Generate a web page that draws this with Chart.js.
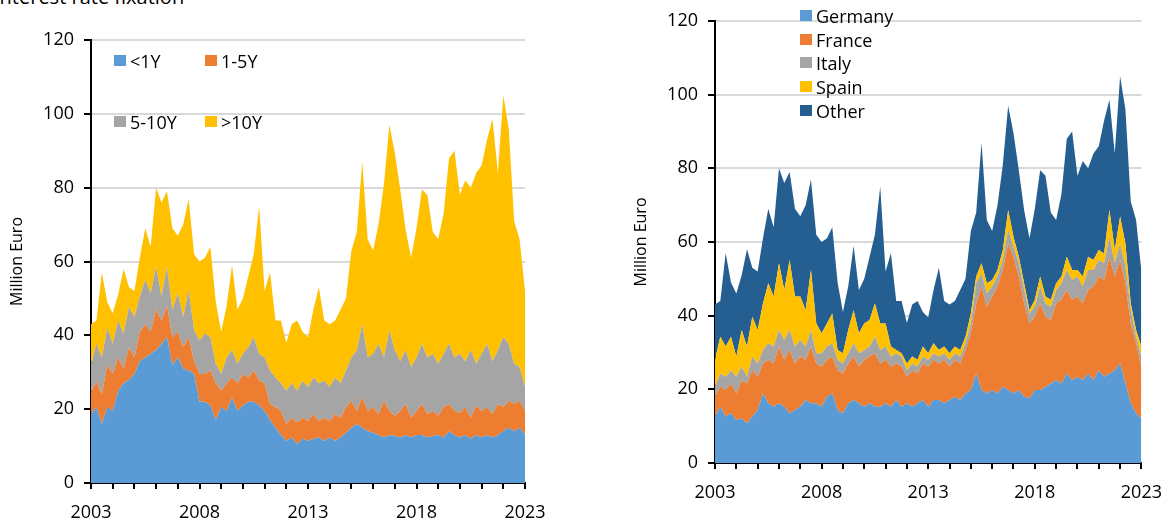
<!DOCTYPE html>
<html>
<head>
<meta charset="utf-8">
<script src="https://cdn.jsdelivr.net/npm/chart.js@4"></script>
<style>
  body { margin: 0; width: 1175px; height: 522px; overflow: hidden; background: #fff; position: relative; font-family: "Open Sans", sans-serif; }
  .box { position: absolute; top: 0; }
  .title { position: absolute; left: -6px; top: -17px; font-size: 20px; line-height: 27px; color: #000; white-space: nowrap; }
  .leg { position: absolute; font-size: 18px; color: #000; line-height: 22px; white-space: nowrap; }
  .leg i { position: absolute; width: 12px; height: 11px; }
</style>
</head>
<body>
<div class="title">Interest rate fixation</div>
<div class="box" style="left:0;width:560px;height:522px"><canvas id="left" width="560" height="522"></canvas></div>
<div class="box" style="left:624px;width:551px;height:522px"><canvas id="right" width="551" height="522"></canvas></div>
<script>
// quarterly points, 2003Q1 .. 2023Q1
var dates = [];
for (var y = 2003; y <= 2023; y++) {
    for (var q = 0; q < 4; q++) {
        if (y < 2023 || q == 0) dates.push(y + q / 4);
    }
}

// left panel: by interest rate fixation (million euro)
var fixNames = ['<1Y', '1-5Y', '5-10Y', '>10Y'];
var lt1y = [18.6,20.5,16,20.5, 19.5,25,27,28, 29.5,33,34,35, 36,37.7,39.5,32, 34,31,30.5,29.5,
    22,22,21,17, 20.5,19.5,23,19.5, 21,22,22,21, 19.5,17,15,13, 11.4,12.3,10.5,12,
    11.4,12,12.3,11.4, 12.3,11.4,12.3,13.6, 15,16,15,14, 13.6,13,12.3,13, 12.7,12.3,13,12.3,
    13,13,12.3,12.7, 13,12.3,14,13, 12.3,13,12,13, 12.3,13,12.3,13, 14,15,14,15, 13];
var y1to5 = [5.9,7.2,8,11.5, 10,9,4,8.8, 4.5,8,9,6, 11,6.3,8.5,7.5, 7,5.8,9,3.5,
    7.5,7.5,9.5,10, 4.5,7.5,5.6,7.5, 8.5,6.6,8.5,6.7, 7.5,4.4,5.5,6.5, 4.6,5.4,5.9,5.7,
    5.4,6.6,4.5,6.3, 4.5,7.2,5.4,6.9, 7.3,3.5,8.2,5.5, 6.9,5.6,10,6.5, 5.5,7.2,8.4,5.4,
    6.5,8.4,6.3,6.8, 5.2,8.2,7.4,6.5, 6.7,7.5,5.7,8, 7.2,7.5,6.3,8.4, 6.5,7.3,7.4,7.3, 6.5];
var y5to10 = [7.5,10,10,10, 8.2,10,9.5,10.9, 11,9.5,12,10.4, 11.6,6.5,10.6,7.3, 10.4,8.2,12.8,8.4,
    9.1,11,9,5.3, 4.5,7,7.4,5.3, 5.5,8.2,9,7.3, 7,9.1,8.1,7.5, 9,9.3,8.6,10,
    9.2,10,10.2,10, 9.2,10,9.3,10, 11.7,16.5,19.8,14.5, 14.5,19.1,11.7,21.9, 17.8,13.5,14.6,13.7,
    14.5,16.3,15.4,15.5, 14.1,14.5,16.3,14.5, 16,12.5,18.3,11.3, 15.5,17.2,14.4,14.6, 19,15.4,10.9,9.1, 6.5];
var gt10y = [11,6.3,23,7, 8.3,7,17.5,5.3, 7,10.5,14,12.6, 21.4,25.5,20.4,22.2, 15.6,25,24.7,20.6,
    21.4,20.5,24.5,16.7, 11.5,14,23,14.7, 15,19.2,22.5,40, 18,26.5,15.4,17, 13,16,19,13.3,
    13.5,18.4,26,16.3, 17,15.4,20,19.5, 29,32,44,32, 28,32.3,47,55.6, 53.5,46.5,32.6,29.6,
    35,41.8,44,33, 33.7,38,50.3,56, 43,49,44,51.7, 51,55.3,65.6,48, 65.5,58.3,38.7,34.6, 26];

// right panel: by country (million euro)
var countryNames = ['Germany', 'France', 'Italy', 'Spain', 'Other'];
var germany = [12.6,15.3,12.6,13.5, 11.7,12.1,10.8,12.6, 14.4,18.9,16.2,15.3, 16.2,15.3,13.5,14.4, 15.3,17.1,16.2,16.2,
    15.3,18,18.9,14.4, 13.5,16.2,17.1,16.2, 15.3,16.2,15.3,15.3, 16.2,15.3,17.1,15.3, 16.2,15.3,16.2,17.1,
    15.3,17.1,17.1,16.2, 17.1,18,17.1,18.9, 19.8,24.3,19.8,18.9, 19.8,18.9,20.7,19.8, 18.9,19.8,18,17.6,
    19.8,19.8,20.7,21.6, 22.5,21.6,24.3,22.5, 23.4,22.5,24.3,22.5, 25.2,23.4,24.3,25.2, 27,21.6,16.2,13.5, 12.1];
var france = [5.4,5.4,7.2,8.1, 7.2,10.4,10.8,12.6, 9,8.1,11.8,11.7, 15.4,12.7,17.2,12.6, 13.6,10.9,15.4,10.8,
    10.9,10,10,10.8, 10.8,10.8,11.8,10, 12.7,12.7,14.5,11.7, 11.8,10.9,9.9,10.9, 7.2,9.9,8.1,9.9,
    10.9,10.9,9.9,11.8, 9.1,10,9.9,11.8, 15.4,19,28.1,23.5, 25.4,29,31.7,39.8, 37.1,30.8,25.3,20.3,
    19.9,23.5,19,17.2, 20.8,22.7,22.7,21.8, 21.8,20.8,22.7,25.4, 25.4,26.3,31.7,25.4, 28.1,27.2,21.7,19, 14.1];
var italy = [2.7,3.6,3.6,3.6, 4.5,3.7,1.8,3.7, 3.6,3.7,4.5,4.6, 4.5,5.4,5.4,4.6, 4.5,3.6,4.5,2.8,
    3.6,3.6,3.6,2.8, 2.7,2.8,3.6,3.6, 2.7,2.7,4.5,3.7, 3.6,2.7,2.8,2.7, 1.8,1.8,1.9,1.9,
    1.8,1.8,1.9,1.8, 1.8,1.8,1.9,1.8, 2.7,5.5,3.6,3.7, 2.7,2.7,2.7,3.7, 2.7,3.7,3.7,2.7,
    2.7,4.6,3.6,3.6, 3.7,4.5,5.4,5.4, 5.4,4.6,5.4,4.5, 4.5,4.6,5.4,3.7, 4.5,4.6,3.7,1.8, 2.7];
var spain = [7.3,10,8.2,9.1, 5.5,9.9,8.2,10.8, 9.1,12.6,16.3,13.6, 18.1,13.6,19,13.6, 11.8,9.9,16.3,8.1,
    5.4,6.3,8.1,2.7, 2.8,6.3,9,5.4, 7.2,7.2,9,7.2, 6.3,2.7,0.9,0.9, 1.8,1.9,1.8,2.7,
    1.8,2.7,1.8,1.8, 1.8,1.8,1.8,1.8, 2.7,1.8,2.7,2.7, 1.8,1.8,2.7,5.4, 2.7,1.7,1.8,0.9,
    1.9,2.7,1.9,1.9, 1.8,1.8,3.6,2.7, 1.8,2.7,3.6,2.7, 2.7,2.6,7.3,3.5, 7.3,6.2,1.7,1.8, 2.7];
var other = [15,9.7,25.4,14.7, 17.1,14.9,26.4,13.3, 15.9,17.7,20.2,18.8, 25.8,29,23.9,23.8, 21.8,28.5,24.6,24.1,
    24.8,23.1,23.4,18.3, 11.2,11.9,17.5,11.8, 12.1,17.2,18.7,37.1, 14.1,25.4,13.3,14.2, 11,14.1,16,9.4,
    9.7,14.5,22.3,12.4, 13.2,12.4,16.3,15.7, 22.4,17.4,32.8,17.2, 13.3,17.6,23.2,28.3, 28.1,23.5,19.8,19.5,
    24.7,28.9,32.8,23.7, 17.2,22.4,32,37.6, 25.6,31.4,24,28.9, 28.2,36.1,29.9,26.2, 38.1,36.4,27.7,29.9, 20.4];

var yTicks = [0, 20, 40, 60, 80, 100, 120];
var xLabelYears = [2003, 2008, 2013, 2018, 2023];

var colors = ['#5B9BD5', '#ED7D31', '#A5A5A5', '#FFC000', '#255E91'];

function make_sets(names, series) {
    var sets = [];
    for (var i = 0; i < series.length; i++) {
        sets.push({
            label: names[i],
            data: series[i].map(function (v, j) { return { x: dates[j], y: v }; }),
            backgroundColor: colors[i],
            borderColor: colors[i],
            borderWidth: 0,
            pointRadius: 0,
            tension: 0,
            fill: i == 0 ? 'origin' : '-1'
        });
    }
    return sets;
}

function make_chart(id, names, series, pad) {
    var font = { family: 'Open Sans', size: 18 };
    return new Chart(document.getElementById(id), {
        type: 'line',
        data: { datasets: make_sets(names, series) },
        options: {
            responsive: false,
            animation: false,
            layout: { padding: pad },
            plugins: { legend: { display: false }, tooltip: { enabled: false } },
            scales: {
                x: {
                    type: 'linear',
                    min: 2003, max: 2023,
                    afterFit: function (s) { s.height = 39; },
                    afterBuildTicks: function (s) {
                        var t = [];
                        for (var y = 2003; y <= 2023; y++) t.push({ value: y });
                        s.ticks = t;
                    },
                    ticks: {
                        autoSkip: false, maxRotation: 0, padding: 13, color: '#000', font: font,
                        callback: function (v) { return xLabelYears.indexOf(v) >= 0 ? String(v) : ''; }
                    },
                    grid: { drawOnChartArea: false, tickLength: 6, tickColor: '#000', lineWidth: 2 },
                    border: { color: '#000', width: 2 }
                },
                y: {
                    stacked: true,
                    min: 0, max: 120,
                    afterFit: function (s) { s.width = 91; },
                    afterBuildTicks: function (s) {
                        s.ticks = yTicks.map(function (v) { return { value: v }; });
                    },
                    ticks: { padding: 10, color: '#000', font: font },
                    grid: { color: '#d9d9d9', lineWidth: 2, tickLength: 7, tickColor: '#000' },
                    border: { color: '#000', width: 2 },
                    title: { display: true, text: 'Million Euro', color: '#000', font: { family: 'Open Sans', size: 16 }, padding: { top: 8, bottom: 0 } }
                }
            }
        }
    });
}

make_chart('left', fixNames, [lt1y, y1to5, y5to10, gt10y], { left: 0, top: 40, right: 35, bottom: 0 });
make_chart('right', countryNames, [germany, france, italy, spain, other], { left: 0, top: 21, right: 27, bottom: 20 });

// legends
function add_legend(name, color, x, yc) {
    var d = document.createElement('div');
    d.className = 'leg';
    d.style.left = x + 'px';
    d.style.top = (yc - 11) + 'px';
    d.style.paddingLeft = '16px';
    d.innerHTML = '<i style="left:0;top:5px;background:' + color + '"></i>';
    d.appendChild(document.createTextNode(name));
    document.body.appendChild(d);
}
var leftPos = [[114, 61], [205, 61], [114, 122], [205, 122]];
for (var i = 0; i < fixNames.length; i++) add_legend(fixNames[i], colors[i], leftPos[i][0], leftPos[i][1]);
for (var i = 0; i < countryNames.length; i++) add_legend(countryNames[i], colors[i], 800, 16 + i * 23.7);
</script>
</body>
</html>
